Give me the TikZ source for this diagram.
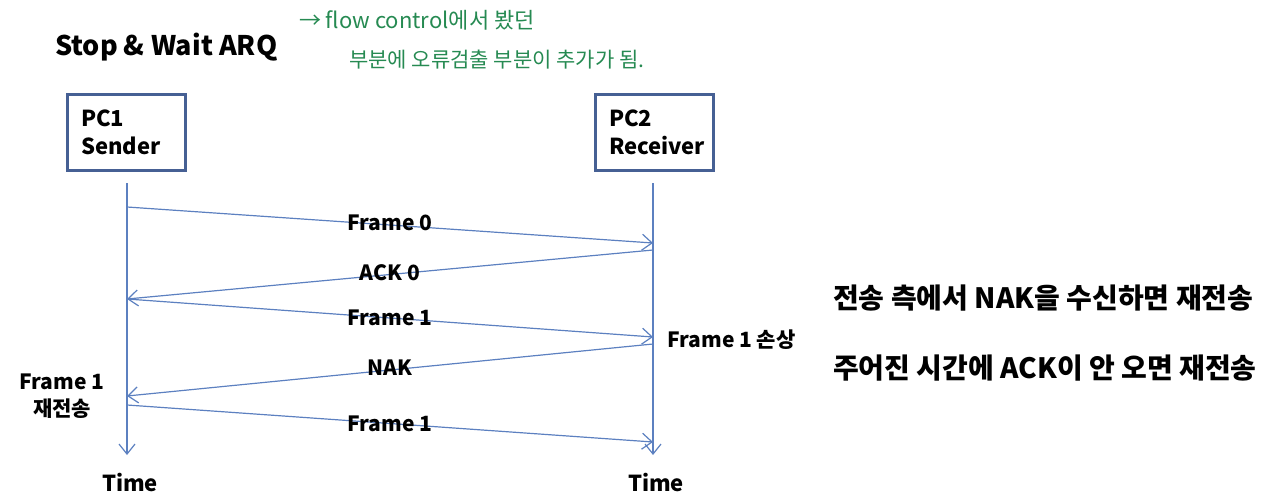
\documentclass[tikz,border=0pt]{standalone}
\usepackage{fontspec}
\setmainfont{Noto Sans CJK KR}
\usetikzlibrary{arrows.meta, positioning}
\definecolor{lineblue}{RGB}{92,128,192}
\definecolor{boxblue}{RGB}{70,96,148}
\definecolor{notegreen}{RGB}{38,138,82}

\begin{document}
\begin{tikzpicture}[
    x=0.5pt, y=-0.5pt,
    >={Straight Barb[length=5pt,width=8pt]},
    font=\bfseries,
    pcbox/.style={
      draw=boxblue, line width=1.5pt,
      minimum width=59pt, minimum height=38pt,
      text width=45pt, align=left,
      font=\fontsize{11}{14}\selectfont\bfseries
    },
    lifeline/.style={->, draw=lineblue, line width=0.6pt},
    msg/.style={->, draw=lineblue, line width=0.6pt},
    msglabel/.style={font=\fontsize{10.5}{13.5}\selectfont\bfseries, inner sep=1pt},
    timelabel/.style={font=\fontsize{11}{13}\selectfont\bfseries, inner sep=1pt},
    note/.style={anchor=west, font=\fontsize{14}{16}\selectfont\bfseries},
    hand/.style={anchor=west, text=notegreen, font=\fontsize{11}{13}\selectfont}
  ]
    \useasboundingbox (0,0) rectangle (1280,503);

    % --- Title and handwritten note ---
    \node[anchor=west, font=\fontsize{13.5}{16}\selectfont\bfseries] (title) at (48,47) {Stop \& Wait ARQ};
    \node[hand] (hand1) at (292,20) {→ flow control에서 봤던};
    \node[hand, font=\fontsize{10.5}{13}\selectfont] (hand2) at (342,60) {부분에 오류검출 부분이 추가가 됨.};

    % --- Stations ---
    \node[pcbox] (pc1) at (126,132) {PC1\\Sender};
    \node[pcbox] (pc2) at (654,132) {PC2\\Receiver};

    % --- Lifelines ---
    \coordinate (stop) at (127,183);
    \coordinate (send) at (127,455);
    \coordinate (rtop) at (653,183);
    \coordinate (rend) at (653,455);
    \draw[lifeline] (stop) -- (send);
    \draw[lifeline] (rtop) -- (rend);
    \node[timelabel, below=8pt of send, xshift=1.5pt] (stime) {Time};
    \node[timelabel, below=8pt of rend, xshift=1.5pt] (rtime) {Time};

    % --- Events on the lifelines ---
    \coordinate (s1) at (127,207);
    \coordinate (r1) at (653,243);
    \coordinate (r2) at (653,250);
    \coordinate (s2) at (127,299);
    \coordinate (r3) at (653,337);
    \coordinate (r4) at (653,344);
    \coordinate (s4) at (127,396);
    \coordinate (s5) at (127,405);
    \coordinate (r5) at (653,442);

    % --- Messages ---
    \draw[msg] (s1) -- (r1) node[msglabel, midway, yshift=1pt] (f0) {Frame 0};
    \draw[msg] (r2) -- (s2) node[msglabel, midway, yshift=1pt] (ack0) {ACK 0};
    \draw[msg] (s2) -- (r3) node[msglabel, midway] (f1) {Frame 1};
    \draw[msg] (r4) -- (s4) node[msglabel, midway, yshift=1pt] (nak) {NAK};
    \draw[msg] (s5) -- (r5) node[msglabel, midway] (f1re) {Frame 1};

    % --- Side labels ---
    \node[msglabel, anchor=west] (lost) at (665,340) {Frame 1 손상};
    \node[msglabel, align=center] (resend) at (62,396) {Frame 1\\재전송};

    % --- Notes ---
    \node[note] (nak-note) at (826,298) {전송 측에서 NAK을 수신하면 재전송};
    \node[note] (ack-note) at (826,368) {주어진 시간에 ACK이 안 오면 재전송};

\end{tikzpicture}
\end{document}
